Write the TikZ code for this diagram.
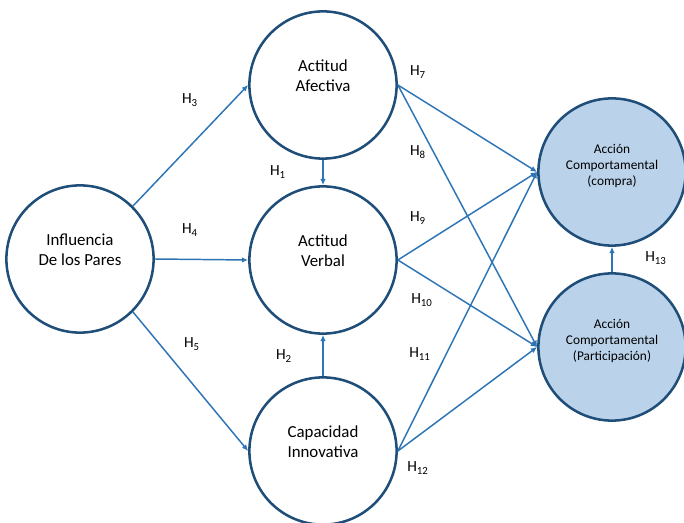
\documentclass[tikz,border=0pt]{standalone}
\usepackage{fontspec}
\setmainfont{Carlito}
\usetikzlibrary{arrows.meta}

\definecolor{azulborde}{RGB}{31,78,121}
\definecolor{azulflecha}{RGB}{46,117,182}
\definecolor{azulrelleno}{RGB}{186,210,234}

\tikzset{
  constructo/.style={circle, draw=azulborde, line width=1.8pt, minimum size=3.68cm,
    align=center, font=\fontsize{12}{14.5}\selectfont, text depth=13pt},
  resultado/.style={constructo, fill=azulrelleno, font=\fontsize{9.5}{11.5}\selectfont, text depth=10pt},
  camino/.style={draw=azulflecha, line width=1.05pt, -{Latex[length=4.5pt,width=4pt]}},
  hip/.style={font=\fontsize{11}{13}\selectfont}
}

\begin{document}
\begin{tikzpicture}
  \useasboundingbox (0,0) rectangle (17.1,13.05);

  % Constructos
  \node [constructo] (ip) at (2.0,6.575) {Influencia\\De los Pares};
  \node [constructo] (aa) at (8.075,10.925) {Actitud\\Afectiva};
  \node [constructo] (av) at (8.075,6.55) {Actitud\\Verbal};
  \node [constructo] (ci) at (8.075,1.775) {Capacidad\\Innovativa};
  \node [resultado] (ac) at (15.3,8.75) {Acción\\Comportamental\\(compra)};
  \node [resultado] (ap) at (15.3,4.375) {Acción\\Comportamental\\(Participación)};

  % Relaciones
  \draw [camino] (ip.45) -- (aa.west);
  \draw [camino] (ip.east) -- (av.west);
  \draw [camino] (ip.-45) -- (ci.west);
  \draw [camino] (aa.south) -- (av.north);
  \draw [camino] (ci.north) -- (av.south);
  \foreach \o in {aa,av,ci} {
    \draw [camino] (\o.east) -- (ac.west);
    \draw [camino] (\o.east) -- (ap.west);
  }
  \draw [camino] (ap.north) -- (ac.south);

  % Hipotesis
  \node [hip] (h1) at (6.95,8.75) {H\textsubscript{1}};
  \node [hip] (h2) at (7.1,4.15) {H\textsubscript{2}};
  \node [hip] (h3) at (4.75,10.55) {H\textsubscript{3}};
  \node [hip] (h4) at (4.75,7.3) {H\textsubscript{4}};
  \node [hip] (h5) at (4.8,4.45) {H\textsubscript{5}};
  \node [hip] (h7) at (10.45,11.25) {H\textsubscript{7}};
  \node [hip] (h8) at (10.45,9.25) {H\textsubscript{8}};
  \node [hip] (h9) at (10.45,7.6) {H\textsubscript{9}};
  \node [hip] (h10) at (10.55,5.55) {H\textsubscript{10}};
  \node [hip] (h11) at (10.5,4.2) {H\textsubscript{11}};
  \node [hip] (h12) at (10.45,1.35) {H\textsubscript{12}};
  \node [hip] (h13) at (16.4,6.6) {H\textsubscript{13}};
\end{tikzpicture}
\end{document}
